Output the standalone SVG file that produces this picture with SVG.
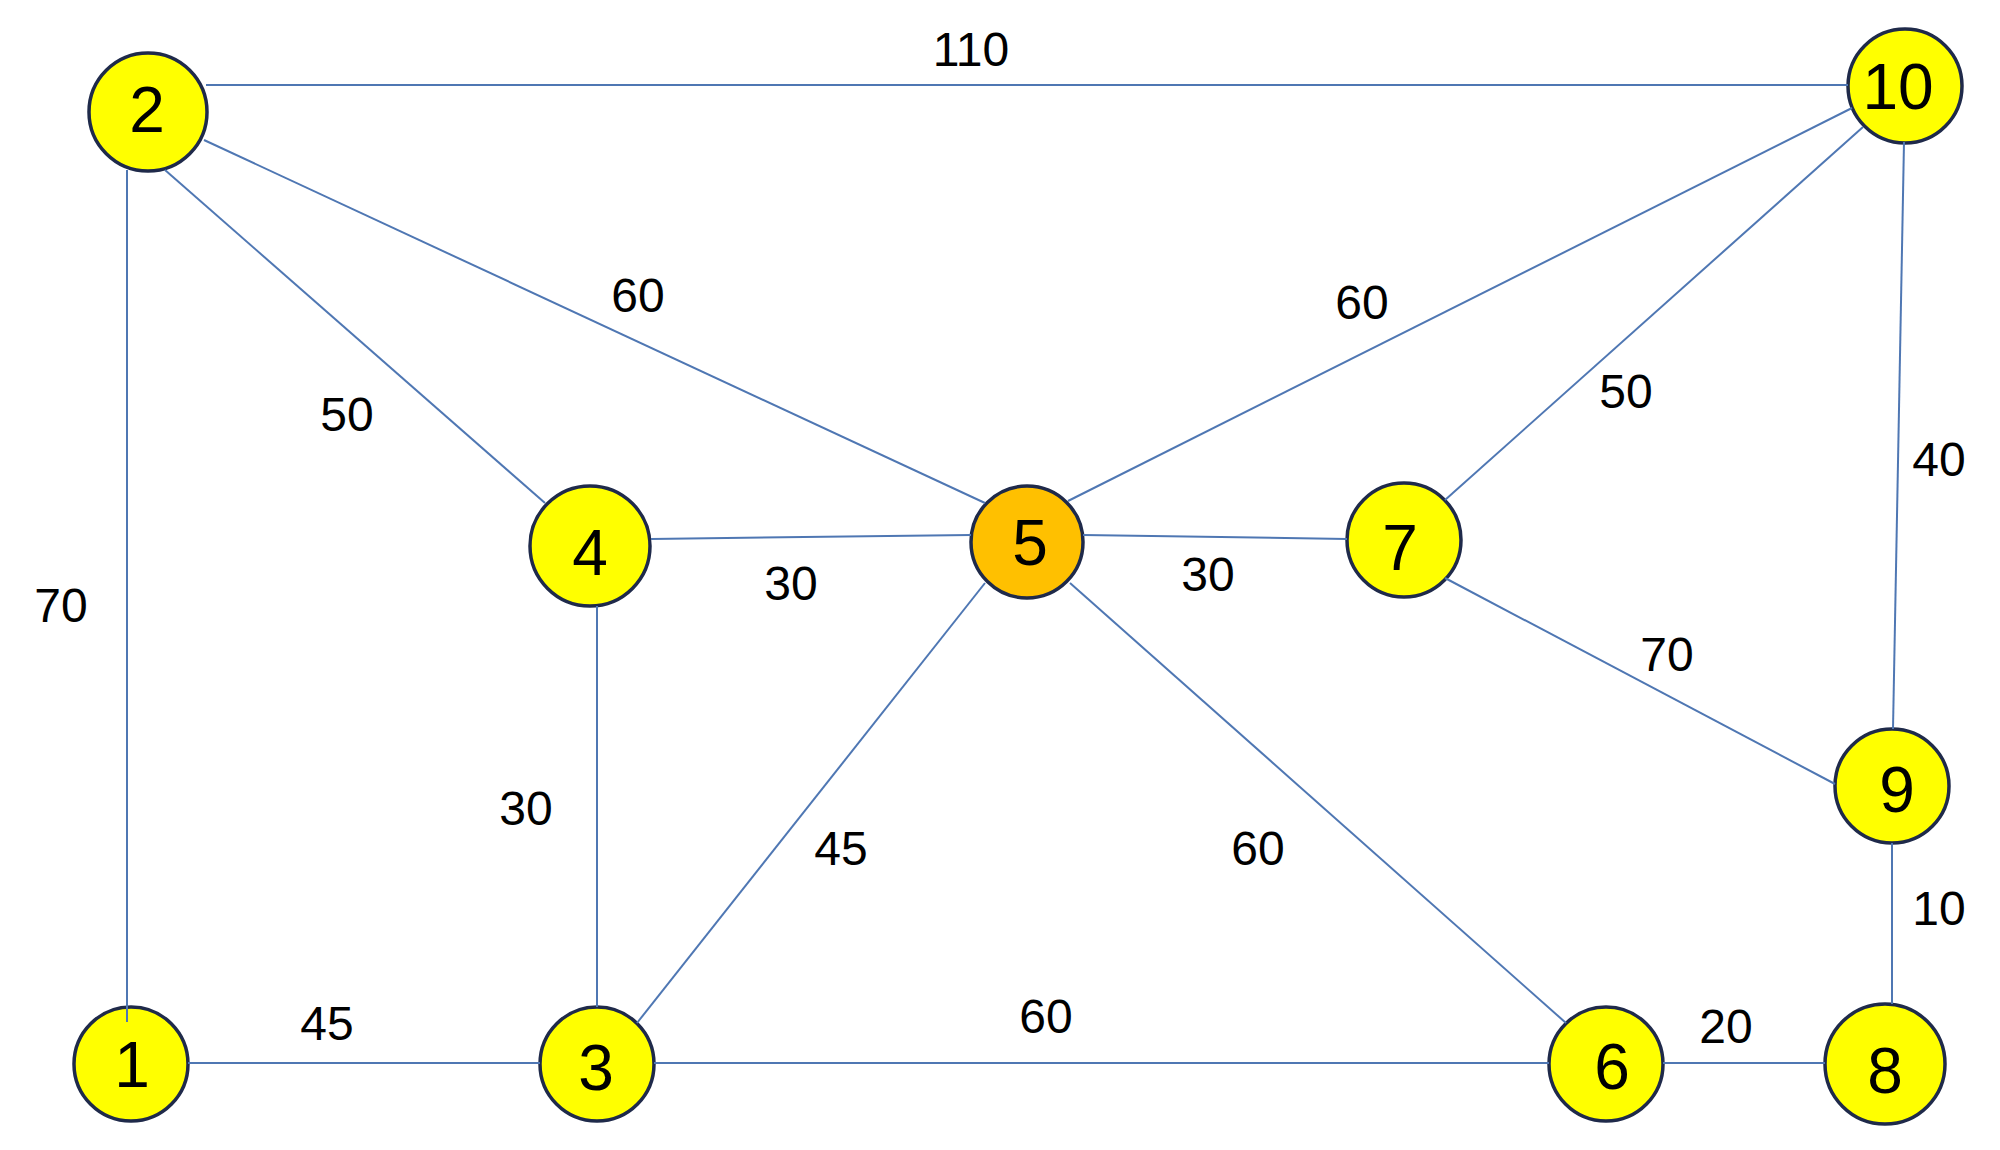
<svg xmlns="http://www.w3.org/2000/svg" width="2000" height="1150" viewBox="0 0 2000 1150">
<style>
.node circle{fill:#ffff00;stroke:#1f2a4a;stroke-width:3.5}
.node.hub circle{fill:#ffc000}
.node text{font-family:"Liberation Sans",Arial,sans-serif;font-size:64px;fill:#000;text-anchor:middle}
.edges line{stroke:#4f77b3;stroke-width:2}
.lbl{font-family:"Liberation Sans",Arial,sans-serif;font-size:48px;fill:#000;text-anchor:middle}
</style>
<rect width="2000" height="1150" fill="#ffffff"/>
<g id="n2" class="node"><circle cx="148" cy="112" r="59"/><text x="147" y="132">2</text></g>
<g id="n10" class="node"><circle cx="1905" cy="86" r="57"/><text x="1898" y="109">10</text></g>
<g id="n4" class="node"><circle cx="590" cy="546" r="60"/><text x="590" y="575">4</text></g>
<g id="n5" class="node hub"><circle cx="1027" cy="542" r="56"/><text x="1030" y="565">5</text></g>
<g id="n7" class="node"><circle cx="1404" cy="540" r="57"/><text x="1400" y="570">7</text></g>
<g id="n9" class="node"><circle cx="1892" cy="786" r="57"/><text x="1897" y="812">9</text></g>
<g id="n1" class="node"><circle cx="131" cy="1064" r="57"/><text x="132" y="1087">1</text></g>
<g id="n3" class="node"><circle cx="597" cy="1064" r="57"/><text x="596" y="1090">3</text></g>
<g id="n6" class="node"><circle cx="1606" cy="1064" r="57"/><text x="1612" y="1089">6</text></g>
<g id="n8" class="node"><circle cx="1885" cy="1064" r="60"/><text x="1885" y="1093">8</text></g>
<g id="edges" class="edges">
<line x1="206" y1="85" x2="1848" y2="85"/>
<line x1="127" y1="170" x2="127" y2="1022"/>
<line x1="165" y1="170" x2="545" y2="503"/>
<line x1="204" y1="140" x2="985" y2="503"/>
<line x1="1852" y1="108" x2="1068" y2="501"/>
<line x1="1863" y1="127" x2="1445" y2="500"/>
<line x1="1904" y1="142" x2="1893" y2="729"/>
<line x1="651" y1="539" x2="971" y2="535"/>
<line x1="1083" y1="535" x2="1347" y2="539"/>
<line x1="1445" y1="578" x2="1835" y2="784"/>
<line x1="597" y1="606" x2="597" y2="1007"/>
<line x1="985" y1="583" x2="637" y2="1023"/>
<line x1="1070" y1="583" x2="1566" y2="1023"/>
<line x1="188" y1="1063" x2="540" y2="1063"/>
<line x1="654" y1="1063" x2="1549" y2="1063"/>
<line x1="1663" y1="1063" x2="1825" y2="1063"/>
<line x1="1892" y1="843" x2="1892" y2="1004"/>
</g>
<g id="labels">
<text class="lbl" x="971" y="66">110</text>
<text class="lbl" x="638" y="312">60</text>
<text class="lbl" x="347" y="431">50</text>
<text class="lbl" x="61" y="622">70</text>
<text class="lbl" x="791" y="600">30</text>
<text class="lbl" x="1208" y="591">30</text>
<text class="lbl" x="1362" y="319">60</text>
<text class="lbl" x="1626" y="408">50</text>
<text class="lbl" x="1939" y="476">40</text>
<text class="lbl" x="1667" y="671">70</text>
<text class="lbl" x="526" y="825">30</text>
<text class="lbl" x="841" y="865">45</text>
<text class="lbl" x="1258" y="865">60</text>
<text class="lbl" x="1939" y="925">10</text>
<text class="lbl" x="327" y="1040">45</text>
<text class="lbl" x="1046" y="1033">60</text>
<text class="lbl" x="1726" y="1043">20</text>
</g>
</svg>
